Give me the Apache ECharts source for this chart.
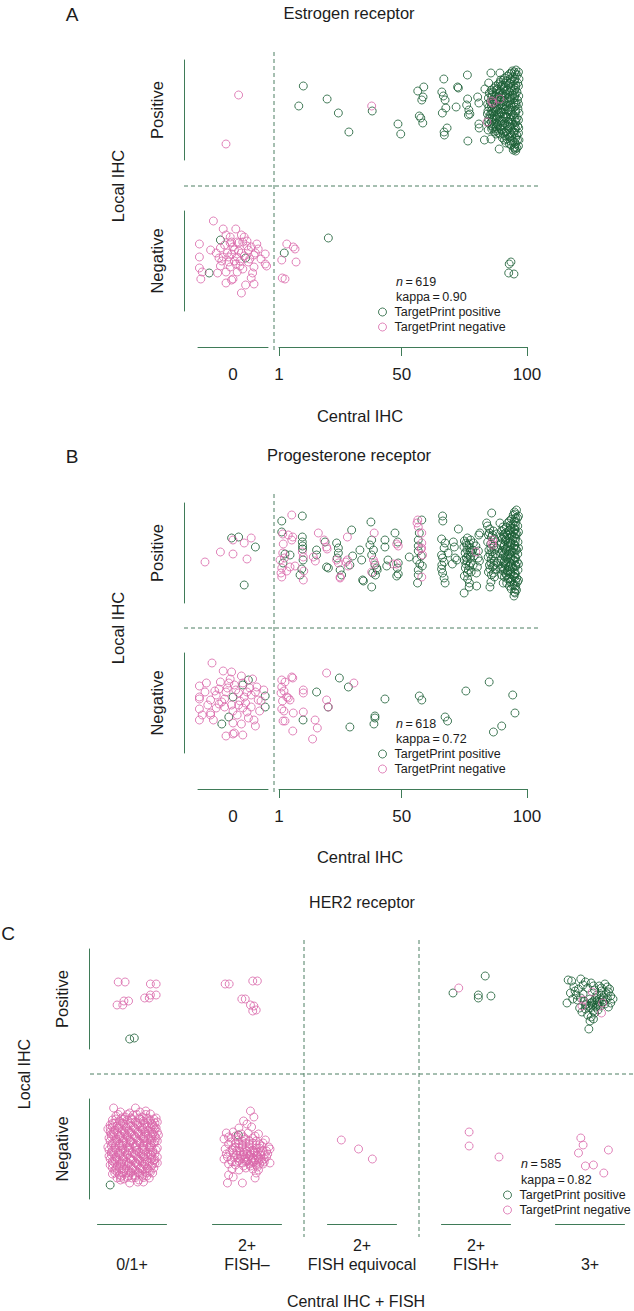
<!DOCTYPE html>
<html><head><meta charset="utf-8">
<script src="https://cdn.jsdelivr.net/npm/echarts@6/dist/echarts.min.js"></script>
<style>html,body{margin:0;padding:0;background:#fff}#c{width:634px;height:1311px}</style>
</head><body><div id="c"></div>
<script>
// ---------------- DATA ----------------
// Panels A/B: x = central IHC (%), points with central IHC = 0 are stored as 0 +/- jitter (|x| < 0.25)
// y = local IHC: 1 = positive, 0 = negative (+/- jitter)
const erGreen = [
[10.7,1.24],[8.9,1.04],[20.2,1.11],[24.7,0.97],[28.9,0.78],[38.2,0.99],[48.5,0.86],[49.6,0.76],
[56.4,1.19],[58.8,1.23],[58.5,1.13],[58.0,1.10],[57.0,0.94],[57.6,0.92],[58.4,0.87],
[66.8,1.31],[66.0,1.18],[66.6,1.14],[67.3,1.10],[67.6,1.02],[66.2,0.97],[68.1,0.82],[66.9,0.78],[67.0,0.75],
[71.7,1.03],[72.3,1.23],[72.6,1.22],[76.2,1.35],[76.3,1.11],[75.9,1.05],[76.8,1.00],[77.2,0.96],[76.6,0.95],[76.4,0.69],
[80.3,1.13],[80.8,1.07],[80.8,0.86],[80.9,0.82],[85.6,1.37],[84.7,1.27],[89.2,1.37],[89.5,1.30],[94.1,1.39],
[85.6,0.71],[88.9,0.61],[94.5,0.60],[83.2,1.21],[83.0,0.70],
[95.6,1.40],[96.1,1.35],[95.2,1.31],[96.3,1.27],[95.5,1.22],[96.0,1.18],[95.1,1.14],[96.2,1.10],[95.7,1.05],[96.4,1.01],
[95.3,0.97],[96.0,0.92],[95.6,0.88],[96.3,0.84],[95.2,0.80],[95.9,0.75],[96.2,0.70],[95.4,0.66],[96.0,0.62],[95.5,0.59],
[93.8,1.37],[94.4,1.33],[93.6,1.28],[94.6,1.24],[93.9,1.19],[94.3,1.15],[93.5,1.11],[94.7,1.07],[94.0,1.03],[93.6,0.99],
[94.5,0.95],[93.8,0.90],[94.2,0.86],[93.5,0.82],[94.6,0.78],[93.9,0.74],[94.3,0.69],[93.7,0.65],[94.8,0.62],
[92.3,1.34],[91.8,1.29],[92.6,1.25],[92.0,1.20],[91.6,1.16],[92.5,1.12],[92.1,1.08],[91.7,1.04],[92.4,1.00],[92.0,0.96],
[91.5,0.92],[92.6,0.88],[92.2,0.84],[91.8,0.79],[92.4,0.75],[92.0,0.71],[91.6,0.67],
[90.6,1.30],[90.1,1.25],[90.8,1.21],[90.3,1.17],[89.9,1.13],[90.7,1.09],[90.2,1.05],[90.5,1.01],[89.8,0.97],[90.6,0.93],
[90.1,0.89],[90.4,0.85],[89.9,0.80],[90.7,0.76],[90.2,0.72],
[88.6,1.26],[88.1,1.21],[88.9,1.17],[88.4,1.13],[88.0,1.09],[88.8,1.05],[88.3,1.01],[88.7,0.97],[88.1,0.93],[88.9,0.89],
[88.4,0.85],[88.0,0.81],[88.7,0.77],
[86.9,1.22],[86.4,1.18],[87.1,1.14],[86.6,1.10],[86.2,1.06],[87.0,1.02],[86.5,0.98],[86.9,0.94],[86.3,0.90],[86.8,0.86],
[86.4,0.82],[87.1,0.78],
[85.0,1.17],[84.6,1.12],[85.3,1.08],[84.8,1.03],[84.4,0.99],[85.2,0.95],[84.7,0.91],[85.0,0.86],[84.5,0.80],
[95.0,1.38],[94.9,1.29],[95.0,1.20],[94.9,1.12],[95.0,1.03],[94.9,0.93],[95.0,0.85],[94.9,0.77],[95.0,0.68],[95.1,0.63],
[93.0,1.36],[93.1,1.27],[93.0,1.18],[93.1,1.09],[93.0,1.00],[93.1,0.91],[93.0,0.83],[93.1,0.73],[93.0,0.66],
[91.1,1.32],[91.0,1.23],[91.1,1.14],[91.0,1.05],[91.1,0.96],[91.0,0.87],[91.1,0.78],[91.0,0.70],
[89.3,1.28],[89.4,1.19],[89.3,1.11],[89.4,1.02],[89.3,0.93],[89.4,0.84],[89.3,0.76],
[87.6,1.24],[87.7,1.16],[87.6,1.07],[87.7,0.99],[87.6,0.91],[87.7,0.83],[87.6,0.76],
[85.8,1.20],[85.9,1.13],[85.8,1.04],[85.9,0.96],[85.8,0.88],[85.9,0.81],
[96.6,1.38],[96.6,1.24],[96.6,1.06],[96.6,0.90],[96.6,0.77],[96.6,0.64],
[95.4,1.36],[95.5,1.25],[95.3,1.16],[95.4,1.07],[95.5,0.99],[95.3,0.90],[95.4,0.82],[95.5,0.72],[95.3,0.61],
[93.3,1.31],[93.4,1.22],[93.2,1.13],[93.3,1.05],[93.4,0.95],[93.2,0.86],[93.3,0.77],[93.4,0.69],
[91.3,1.27],[91.4,1.19],[91.2,1.10],[91.3,1.01],[91.4,0.93],[91.2,0.84],[91.3,0.74],
[89.6,1.24],[89.7,1.15],[89.5,1.06],[89.6,0.98],[89.7,0.89],[89.5,0.81],
[87.8,1.20],[87.9,1.11],[87.7,1.03],[87.8,0.95],[87.9,0.87],[87.7,0.79],
[86.0,1.15],[86.1,1.07],[85.9,0.99],[86.0,0.92],[86.1,0.84],
[84.3,1.06],[84.2,0.96],[84.4,0.88],
[96.8,1.31],[96.7,1.14],[96.8,0.97],[96.7,0.82],[96.8,0.70],
[-0.17,-0.12],[-0.09,0.21],[0.09,0.03],[3.1,0.08],[20.7,0.23],[93.6,-0.01],[92.9,-0.03],[92.7,-0.12],[94.8,-0.13]
];
const erPink = [
[0.04,1.15],[-0.05,0.66],[38.0,1.04],[85.9,1.09],[89.2,1.11],[84.0,0.88],[86.3,1.07],
[-0.14,0.40],[-0.24,0.17],[-0.16,0.11],[-0.24,0.04],[-0.24,-0.07],[-0.23,-0.18],[-0.22,-0.11],[-0.11,-0.12],[-0.07,0.32],
[-0.09,0.13],[-0.10,0.03],[-0.08,0.00],[-0.05,0.26],[-0.04,0.08],[-0.02,0.18],[-0.01,0.19],[0.02,0.32],[0.03,0.19],
[0.04,0.18],[0.06,0.26],[0.07,0.19],[0.10,0.15],[0.11,0.11],[0.13,0.14],[0.17,0.17],[0.15,0.06],[0.16,0.08],[0.23,0.07],
[0.23,-0.03],[0.24,-0.05],[0.15,-0.06],[0.13,-0.17],[0.15,-0.23],[0.09,-0.24],[0.06,-0.32],[0.00,-0.18],[-0.01,-0.19],
[-0.05,-0.22],[-0.05,-0.11],[0.03,-0.11],[0.05,-0.05],[0.01,0.00],[-0.02,-0.06],[-0.07,0.04],[-0.03,-0.01],[0.06,0.08],
[0.03,0.04],[0.05,0.00],[0.11,-0.01],[0.01,0.11],[-0.01,0.07],[-0.09,-0.05],
[-0.06,0.16],[0.00,0.14],[0.04,0.10],[0.08,0.05],[0.12,0.02],[-0.03,0.04],[0.02,-0.03],[0.07,-0.08],[0.10,0.20],
[-0.12,0.08],[0.18,0.12],[0.20,0.02],[0.08,0.24],[-0.02,0.24],[0.14,-0.12],
[4.1,0.17],[6.7,0.14],[7.4,0.12],[7.8,-0.01],[2.1,0.01],[2.3,-0.17],[3.4,-0.18]
];
const prGreen = [
[-0.01,1.15],[0.04,1.16],[0.16,1.06],[0.08,0.68],
[2.1,1.32],[2.1,1.21],[10.3,1.37],[3.4,0.99],[10.3,1.16],[10.3,1.11],[10.4,1.07],[10.4,1.04],[10.1,0.84],[9.4,0.78],[5.4,0.98],[10.6,0.93],[2.6,0.90],
[19.4,1.11],[24.0,1.10],[24.7,1.05],[16.0,1.03],[16.0,0.98],[20.0,0.86],[20.7,0.85],[25.4,0.83],[24.7,1.00],[30.0,1.23],[34.0,0.93],[33.3,1.03],
[26.0,0.78],[24.2,0.95],[30.4,0.97],[29.3,0.88],[34.7,0.72],
[37.7,1.31],[38.0,1.13],[37.3,1.08],[38.7,1.03],[38.0,0.98],[39.3,0.88],[40.0,0.85],[40.2,0.83],[34.4,0.73],[38.0,0.66],[43.3,1.13],[43.3,1.06],
[47.3,1.20],[48.4,1.11],[48.6,0.90],[48.2,0.85],[48.6,0.79],[53.0,0.96],[44.0,0.87],[48.0,0.77],[38.4,0.80],[39.5,0.78],[44.5,0.93],
[57.0,1.20],[56.6,1.13],[56.6,1.07],[56.6,1.02],[56.0,0.93],[57.2,0.89],[56.6,0.83],[56.6,0.78],[58.2,0.87],[57.8,0.97],[56.3,0.70],[58.0,1.33],
[66.3,1.37],[66.4,1.32],[72.6,1.24],[65.9,1.14],[67.3,1.10],[66.9,1.05],[70.6,1.11],[71.0,1.06],[65.9,0.98],[66.3,0.95],[66.9,0.91],[65.9,0.84],
[66.3,0.80],[66.9,0.75],[71.3,0.95],[72.0,0.93],[68.5,1.00],[77.3,1.01],[67.3,0.70],[66.0,0.88],[70.2,0.89],
[75.0,1.12],[76.2,1.15],[77.5,1.13],[78.6,1.10],[80.8,1.18],[81.2,1.20],[74.8,1.06],[76.0,1.08],[77.2,1.05],[78.3,1.03],[79.6,1.07],
[75.3,1.00],[76.5,0.98],[77.8,1.00],[78.9,0.97],[80.5,0.95],[74.9,0.93],[76.1,0.92],[77.4,0.90],[78.5,0.88],[80.2,0.86],[75.4,0.85],
[76.6,0.83],[77.7,0.81],[79.8,0.80],[75.0,0.77],[76.3,0.74],[77.0,0.70],[76.9,0.66],[79.9,0.67],[74.9,0.60],[81.0,0.92],[80.6,1.02],
[75.6,1.10],[77.0,1.09],[76.0,1.03],[77.3,0.96],[75.8,0.95],[76.9,0.87],[75.6,0.89],[76.2,0.80],
[85.9,1.40],[84.2,1.27],[85.1,1.24],[86.6,1.22],[87.8,1.19],[84.6,1.18],[85.8,1.16],[87.0,1.14],[84.3,1.11],[85.5,1.09],[86.8,1.07],
[88.0,1.05],[84.8,1.03],[86.0,1.01],[87.4,0.99],[84.5,0.96],[85.7,0.94],[86.9,0.92],[88.1,0.90],[85.0,0.88],[86.3,0.86],[87.5,0.84],
[84.6,0.81],[85.8,0.78],[87.0,0.76],[85.6,0.71],[85.2,0.66],[83.9,1.30],
[85.0,1.20],[86.2,1.18],[85.6,1.05],[87.0,1.03],[85.2,0.99],[86.4,0.97],[85.6,0.90],[86.8,0.88],[85.2,0.84],[86.6,0.80],
[95.8,1.43],[95.3,1.39],[96.2,1.35],[95.6,1.31],[96.3,1.27],[95.2,1.23],[96.0,1.19],[95.5,1.15],[96.4,1.11],[95.1,1.07],[95.9,1.03],
[96.3,0.99],[95.4,0.95],[96.1,0.91],[95.6,0.87],[96.4,0.83],[95.2,0.79],[95.9,0.75],[96.2,0.71],[95.5,0.67],[95.8,0.63],[95.2,0.60],[94.8,0.57],
[94.5,1.38],[93.8,1.34],[94.4,1.29],[93.6,1.25],[94.6,1.21],[93.9,1.17],[94.3,1.13],[93.5,1.09],[94.7,1.05],[94.0,1.01],[93.6,0.97],
[94.5,0.93],[93.8,0.89],[94.2,0.85],[93.5,0.81],[94.6,0.77],[93.9,0.73],[94.3,0.68],[93.7,0.64],
[92.3,1.30],[91.8,1.26],[92.6,1.22],[92.0,1.18],[91.6,1.14],[92.5,1.10],[92.1,1.06],[91.7,1.02],[92.4,0.98],[92.0,0.94],[91.5,0.90],
[92.6,0.86],[92.2,0.82],[91.8,0.78],[92.4,0.74],[91.9,0.70],
[89.2,1.30],[90.4,1.26],[89.9,1.22],[90.7,1.18],[90.2,1.14],[89.7,1.10],[90.6,1.06],[90.1,1.02],[90.5,0.98],[89.8,0.94],[90.6,0.90],
[90.0,0.86],[90.4,0.82],[89.9,0.78],[90.5,0.70],
[95.0,1.41],[94.9,1.32],[95.0,1.24],[94.9,1.16],[95.0,1.08],[94.9,1.00],[95.0,0.92],[94.9,0.84],[95.0,0.76],[94.9,0.68],[95.0,0.61],
[93.0,1.32],[93.1,1.23],[93.0,1.15],[93.1,1.07],[93.0,0.99],[93.1,0.91],[93.0,0.83],[93.1,0.75],[93.0,0.67],
[91.0,1.24],[91.1,1.16],[91.0,1.08],[91.1,1.00],[91.0,0.92],[91.1,0.84],[91.0,0.76],
[96.6,1.37],[96.6,1.21],[96.6,1.05],[96.6,0.89],[96.6,0.73],
[95.4,1.35],[95.3,1.27],[95.4,1.19],[95.3,1.12],[95.4,1.04],[95.3,0.96],[95.4,0.88],[95.3,0.80],[95.4,0.72],[95.3,0.64],
[93.4,1.28],[93.3,1.19],[93.4,1.11],[93.3,1.03],[93.4,0.95],[93.3,0.87],[93.4,0.79],[93.3,0.71],
[91.4,1.20],[91.3,1.12],[91.4,1.04],[91.3,0.96],[91.4,0.88],[91.3,0.80],
[89.6,1.16],[89.5,1.08],[89.6,1.00],[89.5,0.92],[89.6,0.84],
[0.11,0.23],[0.07,0.18],[0.00,0.06],[0.23,0.07],[0.23,-0.04],[-0.03,-0.14],[-0.08,-0.21],
[16.0,0.11],[25.1,0.25],[28.7,0.16],[20.6,-0.04],[10.6,-0.17],[29.3,-0.24],[43.3,0.04],[39.3,-0.13],[39.3,-0.15],[38.9,-0.21],
[57.0,0.07],[58.0,0.03],[67.3,-0.14],[68.3,-0.18],[75.6,0.12],[84.9,0.21],[94.3,0.08],[95.2,-0.10],[89.9,-0.23],[86.6,-0.29]
];
const prPink = [
[-0.20,0.91],[-0.09,1.01],[0.00,0.99],[0.13,1.15],[0.08,1.10],[0.10,0.94],[0.00,1.13],
[6.1,1.38],[2.7,1.09],[4.7,1.18],[6.5,1.16],[6.1,1.13],[2.5,1.00],[1.4,0.93],[2.1,0.85],[2.1,0.76],[5.4,0.86],[7.4,0.87],[10.3,1.01],
[10.7,0.96],[10.9,0.82],[2.5,1.19],[3.2,0.95],[1.8,0.80],[10.7,0.73],[4.1,0.82],
[16.7,1.20],[20.0,1.06],[20.2,1.04],[14.7,0.96],[15.5,0.92],[24.0,0.93],[24.7,0.90],[27.7,0.91],[28.3,0.93],[28.3,1.16],[25.4,0.76],
[28.6,0.87],[25.4,0.75],[19.0,1.13],
[39.0,1.20],[38.7,0.93],[38.0,0.81],[48.0,1.09],[48.6,1.07],[47.9,0.89],[46.6,0.89],[39.2,0.90],
[56.4,1.33],[56.1,1.30],[56.6,1.26],[58.0,1.20],[58.0,1.10],[57.9,1.05],[58.0,0.76],[57.7,1.04],[58.3,0.98],
[79.6,1.01],[86.3,1.13],[86.3,1.08],[85.9,1.10],
[-0.15,0.40],[-0.07,0.32],[-0.01,0.31],[0.06,0.27],[-0.09,0.21],[-0.19,0.20],[-0.24,0.17],[-0.03,0.20],[0.01,0.18],[0.07,0.20],
[0.17,0.16],[-0.24,0.06],[-0.16,0.03],[-0.12,0.08],[-0.08,0.01],[-0.05,0.11],[0.04,0.10],[0.10,0.11],[0.13,0.08],[0.18,0.03],
[0.20,0.02],[-0.24,-0.06],[-0.22,-0.12],[-0.16,-0.10],[-0.12,-0.05],[-0.06,-0.04],[-0.01,-0.02],[0.04,-0.02],[0.09,0.00],[0.13,-0.04],
[-0.24,-0.17],[-0.14,-0.17],[0.00,-0.20],[0.06,-0.21],[0.11,-0.15],[0.15,-0.17],[0.16,-0.23],[-0.05,-0.33],[0.01,-0.30],[0.07,-0.32],
[-0.24,0.04],[-0.16,-0.12],[0.00,-0.31],
[-0.10,0.14],[-0.04,0.15],[0.02,0.13],[0.08,0.06],[0.12,0.15],[-0.06,0.04],[0.05,0.02],[0.00,-0.08],[-0.10,-0.01],[0.10,-0.09],
[0.16,0.11],[0.19,-0.08],[-0.18,-0.02],[-0.02,0.24],[0.03,-0.12],[0.07,-0.05],[-0.13,0.12],[0.14,0.24],[-0.20,0.11],[0.22,0.13],
[2.1,0.23],[2.1,0.16],[3.4,0.21],[6.1,0.26],[1.8,0.10],[4.1,0.06],[4.7,0.05],[5.4,0.03],[10.7,0.13],[10.7,0.10],[2.1,-0.06],[3.0,-0.08],
[2.6,-0.18],[3.4,-0.18],[6.7,-0.10],[10.7,-0.09],[15.4,-0.17],[16.3,-0.25],[6.5,-0.28],[14.4,-0.36],[20.0,0.30],[20.0,0.03],[20.7,-0.04],
[30.9,0.20],[6.5,0.25],[3.0,0.12],[2.4,0.02]
];
// Panel C: x = category index (0..4) +/- jitter, y = local IHC (1 positive, 0 negative) +/- jitter
const her2Green = [
[-0.02,0.60],[0.02,0.61],
[2.80,1.06],[3.02,1.04],[3.02,1.01],[3.13,1.03],[3.08,1.23],
[3.81,1.19],[3.84,1.18],[3.92,1.20],[3.96,1.17],[4.01,1.16],[4.08,1.13],[4.13,1.15],[4.15,1.12],[4.17,1.10],
[3.86,1.12],[3.90,1.10],[3.98,1.11],[4.04,1.09],[4.10,1.08],[4.14,1.06],
[3.83,1.06],[3.88,1.04],[3.94,1.05],[4.06,1.04],[4.12,1.02],[4.18,1.03],
[3.80,0.96],[3.89,0.99],[3.95,0.98],[4.00,1.00],[4.04,0.99],[4.08,0.97],[4.11,0.99],[4.20,1.00],
[3.97,0.95],[4.02,0.94],[4.06,0.95],[4.09,0.93],[4.13,0.95],[4.16,0.92],
[3.91,0.91],[3.96,0.90],[4.00,0.91],[4.05,0.92],[4.03,0.88],[4.07,0.89],
[3.93,0.87],[3.98,0.84],[4.01,0.82],[4.03,0.80],[4.00,0.78],[3.99,0.70],
[4.02,0.97],[4.05,1.01],[4.08,1.00],[4.01,0.96],[4.06,0.98],[3.99,0.93],[4.07,0.94],[4.12,0.97],[4.15,1.01],[3.92,1.01],
[3.87,1.08],[4.10,1.11],[4.03,1.13],[3.94,1.14],[4.16,1.07],[3.85,1.00],[4.18,0.96],[4.04,0.86],[3.96,0.94],[4.10,1.04],
[-0.19,-0.36],[0.925,0.14]
];
const her2Pink = [
[-0.12,1.17],[-0.06,1.17],[0.16,1.15],[0.21,1.15],[-0.13,0.94],[-0.08,0.94],[-0.07,0.98],[-0.03,0.98],[0.11,1.01],[0.15,1.01],[0.16,1.04],[0.21,1.04],
[0.81,1.15],[0.845,1.15],[1.05,1.18],[1.09,1.18],[0.955,1.00],[0.985,1.00],[1.03,0.94],[1.06,0.93],[1.05,0.88],[1.08,0.89],
[2.85,1.11],
[3.93,0.93],[4.10,0.86],[4.02,1.07],[4.11,0.96],[3.94,0.99],
[-0.16,0.41],[0.03,0.41],[0.12,0.38],
[-0.10,0.37],[-0.02,0.36],[0.07,0.37],[0.16,0.35],
[-0.14,0.33],[-0.06,0.32],[0.01,0.34],[0.09,0.32],[0.21,0.31],
[-0.17,0.29],[-0.11,0.28],[-0.04,0.29],[0.03,0.27],[0.10,0.28],[0.16,0.29],[0.22,0.27],
[-0.19,0.24],[-0.13,0.23],[-0.07,0.25],[-0.01,0.23],[0.05,0.24],[0.11,0.22],[0.18,0.24],
[-0.21,0.20],[-0.15,0.19],[-0.09,0.20],[-0.03,0.18],[0.03,0.20],[0.09,0.19],[0.14,0.18],[0.20,0.20],
[-0.18,0.15],[-0.12,0.14],[-0.06,0.16],[0.00,0.14],[0.06,0.15],[0.12,0.13],[0.18,0.15],[0.23,0.14],
[-0.20,0.11],[-0.14,0.10],[-0.08,0.11],[-0.02,0.09],[0.04,0.11],[0.10,0.10],[0.16,0.09],[0.21,0.11],
[-0.17,0.06],[-0.11,0.05],[-0.05,0.07],[0.01,0.05],[0.07,0.06],[0.13,0.04],[0.19,0.06],
[-0.21,0.02],[-0.15,0.01],[-0.09,0.03],[-0.03,0.01],[0.03,0.02],[0.09,0.00],[0.15,0.02],[0.22,0.01],
[-0.18,-0.03],[-0.12,-0.04],[-0.06,-0.02],[0.00,-0.04],[0.06,-0.03],[0.12,-0.05],[0.18,-0.03],
[-0.20,-0.07],[-0.14,-0.08],[-0.08,-0.07],[-0.02,-0.09],[0.04,-0.07],[0.10,-0.08],[0.16,-0.06],[0.22,-0.08],
[-0.17,-0.12],[-0.11,-0.11],[-0.05,-0.13],[0.01,-0.11],[0.07,-0.12],[0.13,-0.13],[0.19,-0.11],
[-0.19,-0.16],[-0.13,-0.17],[-0.07,-0.15],[-0.01,-0.17],[0.05,-0.16],[0.11,-0.15],[0.17,-0.17],[0.22,-0.14],
[-0.15,-0.21],[-0.09,-0.20],[-0.03,-0.22],[0.03,-0.21],[0.09,-0.20],[0.15,-0.22],
[-0.17,-0.25],[-0.11,-0.26],[-0.05,-0.24],[0.01,-0.26],[0.07,-0.25],[0.13,-0.27],[0.18,-0.24],
[-0.13,-0.29],[-0.07,-0.30],[0.00,-0.29],[0.06,-0.31],[0.15,-0.29],
[-0.10,-0.31],[-0.02,-0.34],[0.05,-0.33],[0.10,-0.33],
[-0.09,0.31],[-0.01,0.31],[0.06,0.31],[0.13,0.31],
[-0.15,0.26],[-0.08,0.26],[-0.01,0.26],[0.07,0.26],[0.14,0.26],[0.20,0.26],
[-0.17,0.22],[-0.11,0.22],[-0.05,0.22],[0.01,0.22],[0.07,0.22],[0.13,0.22],[0.19,0.22],
[-0.19,0.17],[-0.13,0.17],[-0.07,0.17],[-0.01,0.17],[0.05,0.17],[0.11,0.17],[0.17,0.17],[0.22,0.17],
[-0.16,0.13],[-0.10,0.13],[-0.04,0.13],[0.02,0.13],[0.08,0.13],[0.14,0.13],[0.20,0.13],
[-0.19,0.08],[-0.13,0.08],[-0.07,0.08],[-0.01,0.08],[0.05,0.08],[0.11,0.08],[0.17,0.08],[0.22,0.08],
[-0.14,0.04],[-0.08,0.04],[-0.02,0.04],[0.04,0.04],[0.10,0.04],[0.16,0.04],
[-0.20,-0.01],[-0.14,-0.01],[-0.08,-0.01],[-0.02,-0.01],[0.04,-0.01],[0.10,-0.01],[0.16,-0.01],[0.21,-0.01],
[-0.16,-0.05],[-0.10,-0.05],[-0.04,-0.05],[0.02,-0.05],[0.08,-0.05],[0.14,-0.05],[0.20,-0.05],
[-0.19,-0.10],[-0.13,-0.10],[-0.07,-0.10],[-0.01,-0.10],[0.05,-0.10],[0.11,-0.10],[0.17,-0.10],
[-0.15,-0.14],[-0.09,-0.14],[-0.03,-0.14],[0.03,-0.14],[0.09,-0.14],[0.15,-0.14],[0.20,-0.14],
[-0.17,-0.19],[-0.11,-0.19],[-0.05,-0.19],[0.01,-0.19],[0.07,-0.19],[0.13,-0.19],[0.19,-0.19],
[-0.13,-0.23],[-0.07,-0.23],[-0.01,-0.23],[0.05,-0.23],[0.11,-0.23],[0.16,-0.23],
[-0.09,-0.27],[-0.03,-0.27],[0.03,-0.27],[0.09,-0.27],
[-0.12,0.345],[-0.04,0.345],[0.04,0.345],[0.12,0.345],
[-0.14,0.30],[-0.07,0.30],[0.00,0.30],[0.07,0.30],[0.14,0.30],[0.19,0.30],
[-0.17,0.255],[-0.10,0.255],[-0.03,0.255],[0.04,0.255],[0.11,0.255],[0.17,0.255],
[-0.19,0.21],[-0.12,0.21],[-0.05,0.21],[0.02,0.21],[0.09,0.21],[0.16,0.21],[0.21,0.21],
[-0.16,0.165],[-0.09,0.165],[-0.02,0.165],[0.05,0.165],[0.12,0.165],[0.19,0.165],
[-0.18,0.12],[-0.11,0.12],[-0.04,0.12],[0.03,0.12],[0.10,0.12],[0.17,0.12],
[-0.15,0.075],[-0.08,0.075],[-0.01,0.075],[0.06,0.075],[0.13,0.075],[0.20,0.075],
[-0.18,0.03],[-0.11,0.03],[-0.04,0.03],[0.03,0.03],[0.10,0.03],[0.17,0.03],
[-0.17,-0.015],[-0.10,-0.015],[-0.03,-0.015],[0.04,-0.015],[0.11,-0.015],[0.18,-0.015],
[-0.18,-0.06],[-0.11,-0.06],[-0.04,-0.06],[0.03,-0.06],[0.10,-0.06],[0.17,-0.06],
[-0.15,-0.105],[-0.08,-0.105],[-0.01,-0.105],[0.06,-0.105],[0.13,-0.105],[0.20,-0.105],
[-0.17,-0.15],[-0.10,-0.15],[-0.03,-0.15],[0.04,-0.15],[0.11,-0.15],[0.18,-0.15],
[-0.14,-0.195],[-0.07,-0.195],[0.00,-0.195],[0.07,-0.195],[0.14,-0.195],
[-0.15,-0.24],[-0.08,-0.24],[-0.01,-0.24],[0.06,-0.24],[0.13,-0.24],
[-0.10,-0.285],[-0.04,-0.285],[0.03,-0.285],[0.10,-0.285],
[1.03,0.38],[1.06,0.32],[1.00,0.25],[0.93,0.21],[0.97,0.28],[1.04,0.22],
[0.82,0.16],[0.88,0.17],[0.95,0.15],[1.01,0.16],[1.10,0.15],
[0.80,0.10],[0.86,0.11],[0.92,0.09],[0.99,0.10],[1.05,0.11],[1.16,0.09],
[0.84,0.05],[0.90,0.06],[0.96,0.04],[1.02,0.05],[1.08,0.04],[1.14,0.06],[1.19,0.02],
[0.81,0.00],[0.87,-0.01],[0.93,0.01],[0.99,0.00],[1.05,-0.01],[1.11,0.01],[1.17,-0.02],[1.20,0.00],
[0.82,-0.05],[0.88,-0.04],[0.94,-0.06],[1.00,-0.05],[1.06,-0.04],[1.12,-0.06],[1.18,-0.05],
[0.80,-0.10],[0.86,-0.11],[0.92,-0.09],[0.98,-0.10],[1.04,-0.11],[1.10,-0.09],[1.15,-0.10],[1.20,-0.14],
[0.84,-0.15],[0.90,-0.16],[0.96,-0.14],[1.02,-0.15],[1.08,-0.16],[1.14,-0.15],
[0.87,-0.20],[0.93,-0.21],[0.99,-0.19],[1.05,-0.20],[1.10,-0.21],
[0.84,-0.26],[0.88,-0.28],[1.07,-0.29],[1.08,-0.24],[0.83,-0.34],[0.96,-0.34],
[1.02,-0.07],[1.05,-0.09],[1.08,-0.06],[1.04,-0.12],[1.07,-0.03],[0.99,-0.08],[1.10,-0.12],
[0.96,0.08],[1.02,0.08],[1.08,0.08],[1.13,0.03],[0.90,0.02],[0.96,0.02],[1.02,0.02],[1.08,0.01],[1.14,-0.02],[0.85,-0.03],
[0.91,-0.02],[0.97,-0.03],[1.03,-0.03],[1.09,-0.03],[1.15,-0.06],[0.89,-0.08],[0.95,-0.08],[1.01,-0.11],[1.07,-0.11],[1.13,-0.12],
[0.93,-0.12],[0.99,-0.13],[1.05,-0.14],[1.11,-0.15],[0.87,-0.13],[0.84,0.12],[0.90,0.13],[0.97,0.12],[1.07,0.13],[0.83,-0.08],
[0.93,0.05],[0.99,0.06],[1.05,0.06],[1.11,0.05],[0.88,0.01],[0.94,-0.02],[1.00,-0.02],[1.06,-0.02],[1.12,-0.03],[1.17,-0.08],
[0.91,-0.06],[0.97,-0.06],[1.03,-0.06],[1.09,-0.07],[1.15,-0.13],[0.94,-0.10],[1.00,-0.12],[1.06,-0.13],[1.12,-0.10],[0.97,-0.17],
[1.03,-0.17],[1.09,-0.18],[0.91,-0.13],[0.86,0.07],[0.92,0.12],
[1.82,0.09],[1.97,0.00],[2.09,-0.10],
[2.94,0.17],[2.94,0.03],[3.20,-0.08],
[3.92,0.11],[3.94,0.04],[3.90,-0.04],[4.16,-0.01],[3.96,-0.17],[4.03,-0.16],[4.12,-0.24]
];
const rowLabels = ['Positive', 'Negative'];
const ihcTicks = [1, 50, 100];
const zeroLabel = '0';
const her2Categories = ['0/1+', '2+\nFISH\u2013', '2+\nFISH equivocal', '2+\nFISH+', '3+'];
const seriesNames = ['TargetPrint positive', 'TargetPrint negative'];
const stats = {A: ['619', '0.90'], B: ['618', '0.72'], C: ['585', '0.82']};

// ---------------- STYLE ----------------
const FONT = '"Liberation Sans", Arimo, Arial, sans-serif';
const GREEN = '#1a5e34', PINK = '#da68aa', AX = '#3f7b58', DASH = '#4d7f63', TXT = '#1c1c1c';

const grids = [], xAxes = [], yAxes = [], series = [];
function scatter(gi, name, color, data) {
  return {type: 'scatter', name, xAxisIndex: gi, yAxisIndex: gi, data, symbol: 'circle', symbolSize: 8,
    clip: false, silent: true, itemStyle: {color: 'rgba(0,0,0,0)', borderColor: color, borderWidth: 1},
    emphasis: {disabled: true}};
}
function yAxisCfg(gi, r, show, offset) {
  const base = {gridIndex: gi, type: 'value', min: r.min, max: r.max, splitLine: {show: false}};
  if (!show) return Object.assign(base, {show: false});
  return Object.assign(base, {offset, axisLine: {show: true, onZero: false, lineStyle: {color: AX, width: 1}},
    axisTick: {show: false}, axisLabel: {show: false}, name: r.name, nameLocation: 'middle', nameRotate: 90, nameGap: 19,
    nameTextStyle: {fontSize: 16.5, color: TXT, fontFamily: FONT}});
}
function buildAB(tops, green, pink, axisOffset) {
  const rows = [{top: tops[0], min: 0.5, max: 1.5, name: rowLabels[0]}, {top: tops[1], min: -0.5, max: 0.5, name: rowLabels[1]}];
  const cols = [{left: 198, width: 70, min: -0.25, max: 0.25}, {left: 279, width: 248, min: 1, max: 100}];
  rows.forEach((r, ri) => cols.forEach((c, ci) => {
    const gi = grids.length;
    grids.push({left: c.left, top: r.top, width: c.width, height: 100});
    let xa = {gridIndex: gi, type: 'value', min: c.min, max: c.max, splitLine: {show: false}};
    if (ri === 0) xa.show = false;
    else {
      Object.assign(xa, {offset: axisOffset, axisLine: {show: true, onZero: false, lineStyle: {color: AX, width: 1}},
        axisTick: ci === 0 ? {show: false} : {show: true, customValues: ihcTicks, length: 9, lineStyle: {color: AX}},
        axisLabel: {show: true, customValues: ci === 0 ? [0] : ihcTicks, showMinLabel: true, showMaxLabel: true,
          formatter: v => ci === 0 ? zeroLabel : String(v), margin: 19, fontSize: 17, color: TXT, fontFamily: FONT}});
    }
    xAxes.push(xa);
    yAxes.push(yAxisCfg(gi, r, ci === 0, 14));
    const inCell = d => (ci === 0 ? d[0] < 0.75 : d[0] >= 0.75) && (ri === 0 ? d[1] > 0.5 : d[1] <= 0.5);
    series.push(scatter(gi, seriesNames[0], GREEN, green.filter(inCell)));
    series.push(scatter(gi, seriesNames[1], PINK, pink.filter(inCell)));
  }));
}
buildAB([60, 211], erGreen, erPink, 36);
buildAB([503, 653], prGreen, prPink, 36);

// Panel C
(function () {
  const rows = [{top: 949, min: 0.5, max: 1.5, name: rowLabels[0]}, {top: 1099, min: -0.5, max: 0.5, name: rowLabels[1]}];
  const centers = [132, 247, 362, 476, 590];
  rows.forEach((r, ri) => her2Categories.forEach((cat, ci) => {
    const gi = grids.length;
    grids.push({left: centers[ci] - 34.5, top: r.top, width: 69, height: 100});
    let xa = {gridIndex: gi, type: 'value', min: ci - 0.3, max: ci + 0.3, splitLine: {show: false}};
    if (ri === 0) xa.show = false;
    else {
      Object.assign(xa, {offset: 25, axisLine: {show: true, onZero: false, lineStyle: {color: AX, width: 1}}, axisTick: {show: false},
        axisLabel: {show: true, customValues: [ci], formatter: () => cat.indexOf('\n') < 0 ? '\n' + cat : cat,
          margin: 12, fontSize: 16, lineHeight: 19, color: TXT, fontFamily: FONT}});
    }
    xAxes.push(xa);
    yAxes.push(yAxisCfg(gi, r, ci === 0, 8));
    const inCell = d => Math.round(d[0]) === ci && (ri === 0 ? d[1] > 0.5 : d[1] <= 0.5);
    series.push(scatter(gi, seriesNames[0], GREEN, her2Green.filter(inCell)));
    series.push(scatter(gi, seriesNames[1], PINK, her2Pink.filter(inCell)));
  }));
})();

function txt(t, x, y, size, opts) {
  return Object.assign({type: 'text', x, y, silent: true, z: 10,
    style: {text: t, fontSize: size, fontFamily: FONT, fill: TXT, align: 'center', verticalAlign: 'middle'}}, opts || {});
}
function statText(label, value, x, y, italic) {
  return {type: 'text', x, y, silent: true, z: 10, style: {text: (italic ? '{i|n}' : label) + '\u2009=\u2009' + value,
    fontSize: 12.5, fontFamily: FONT, fill: TXT, align: 'left', verticalAlign: 'middle',
    rich: {i: {fontStyle: 'italic', fontSize: 12.5, fontFamily: FONT, fill: TXT}}}};
}
function dashed(x1, y1, x2, y2) {
  return {type: 'line', silent: true, z: 5, shape: {x1, y1, x2, y2}, style: {stroke: DASH, lineWidth: 1, lineDash: [4, 3]}};
}
const graphic = [
  txt('A', 72, 14, 19), txt('Estrogen receptor', 349, 13, 16.5),
  txt('Local IHC', 118, 186, 16.5, {rotation: Math.PI / 2}), txt('Central IHC', 360, 416, 16.5),
  statText('n', stats.A[0], 396, 282, true), statText('kappa', stats.A[1], 396, 297, false),
  dashed(274, 52, 274, 350), dashed(184, 186, 540, 186),
  txt('B', 72, 456, 19), txt('Progesterone receptor', 349, 455, 16.5),
  txt('Local IHC', 118, 628, 16.5, {rotation: Math.PI / 2}), txt('Central IHC', 360, 857, 16.5),
  statText('n', stats.B[0], 396, 724, true), statText('kappa', stats.B[1], 396, 739, false),
  dashed(274, 494, 274, 792), dashed(184, 628, 540, 628),
  txt('C', 8, 933, 19), txt('HER2 receptor', 362, 902, 16),
  txt('Local IHC', 24, 1074, 16, {rotation: Math.PI / 2}), txt('Central IHC + FISH', 356, 1301, 16),
  statText('n', stats.C[0], 521, 1164, true), statText('kappa', stats.C[1], 521, 1180, false),
  dashed(304, 940, 304, 1237), dashed(419, 940, 419, 1237), dashed(90, 1074, 634, 1074)
];
function legendAt(left, top) {
  return {left, top, orient: 'vertical', itemWidth: 14, itemHeight: 8, itemGap: 0, icon: 'circle', selectedMode: false, padding: 0,
    data: [{name: seriesNames[0], itemStyle: {color: 'rgba(0,0,0,0)', borderColor: GREEN, borderWidth: 1}},
           {name: seriesNames[1], itemStyle: {color: 'rgba(0,0,0,0)', borderColor: PINK, borderWidth: 1}}],
    textStyle: {fontSize: 12.5, lineHeight: 15, color: TXT, fontFamily: FONT}};
}
const chart = echarts.init(document.getElementById('c'), null, {renderer: 'svg', width: 634, height: 1311});
chart.setOption({
  animation: false, backgroundColor: '#fff',
  grid: grids, xAxis: xAxes, yAxis: yAxes, series,
  legend: [legendAt(378, 304.5), legendAt(378, 746.5), legendAt(503, 1187.5)],
  graphic
});
</script></body></html>
